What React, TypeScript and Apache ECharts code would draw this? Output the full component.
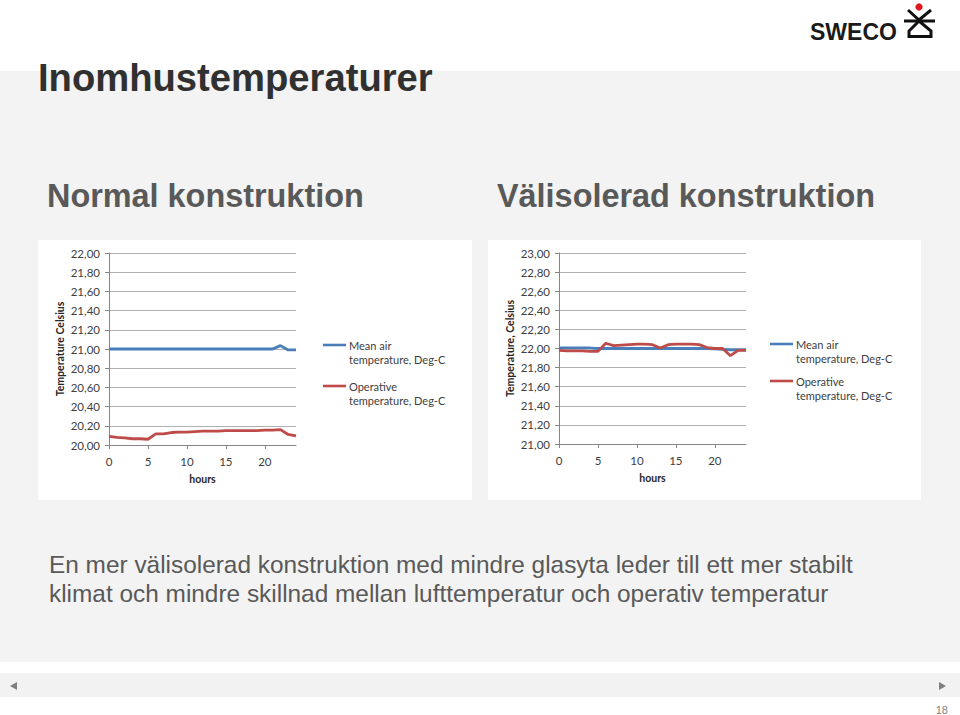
import React, { useEffect, useRef } from "react";
import * as echarts from "echarts";

// ---- Data ----
const hours = [0, 1, 2, 3, 4, 5, 6, 7, 8, 9, 10, 11, 12, 13, 14, 15, 16, 17, 18, 19, 20, 21, 22, 23, 24];

const normalMeanAir = [21.0, 21.0, 21.0, 21.0, 21.0, 21.0, 21.0, 21.0, 21.0, 21.0, 21.0, 21.0, 21.0, 21.0, 21.0, 21.0, 21.0, 21.0, 21.0, 21.0, 21.0, 21.0, 21.035, 20.99, 20.99];
const normalOperative = [20.09, 20.08, 20.075, 20.065, 20.065, 20.06, 20.115, 20.115, 20.13, 20.135, 20.135, 20.14, 20.145, 20.145, 20.145, 20.15, 20.15, 20.15, 20.15, 20.15, 20.155, 20.155, 20.16, 20.11, 20.095];

const wellMeanAir = [22.005, 22.005, 22.005, 22.005, 22.005, 22.0, 22.0, 22.0, 22.0, 22.0, 22.0, 22.0, 22.0, 22.0, 22.0, 22.0, 22.0, 22.0, 22.0, 22.0, 21.995, 21.99, 21.985, 21.985, 21.985];
const wellOperative = [21.98, 21.975, 21.975, 21.975, 21.97, 21.97, 22.055, 22.03, 22.035, 22.04, 22.045, 22.045, 22.04, 22.005, 22.04, 22.045, 22.045, 22.045, 22.04, 22.01, 22.0, 22.0, 21.925, 21.98, 21.98];

const seriesNames = ["Mean air temperature, Deg-C", "Operative temperature, Deg-C"];
const legendLines = [
  ["Mean air", "temperature, Deg-C"],
  ["Operative", "temperature, Deg-C"],
];
const yRangeNormal = [20, 22];
const yRangeWell = [21, 23];
const xRange = [0, 24];

const pageTitle = "Inomhustemperaturer";
const subTitles = ["Normal konstruktion", "Välisolerad konstruktion"];
const bodyLines = [
  "En mer välisolerad konstruktion med mindre glasyta leder till ett mer stabilt",
  "klimat och mindre skillnad mellan lufttemperatur och operativ temperatur",
];
const yAxisNames = ["Temperature Celsius", "Temperature, Celsius"];
const xAxisName = "hours";
const pageNumber = "18";

const BLUE = "#4A7EBB";
const RED = "#BE4B48";
const CHART_FONT = "Lato, 'Open Sans', sans-serif";
const SLIDE_FONT = "'Liberation Sans', Arial, sans-serif";

function pairs(vals: number[]) {
  return hours.map((h, i) => [h, vals[i]]);
}

function makeX(gridIndex: number) {
  return {
    type: "value",
    gridIndex,
    min: xRange[0],
    max: xRange[1],
    interval: 5,
    name: xAxisName,
    nameLocation: "middle",
    nameGap: 28,
    nameTextStyle: { fontFamily: CHART_FONT, fontWeight: "bold", fontSize: 10.5, color: "#262626" },
    axisLine: { show: true, lineStyle: { color: "#868686", width: 1 } },
    axisTick: { show: true, length: 4, lineStyle: { color: "#868686" } },
    axisLabel: {
      showMaxLabel: false,
      margin: 10,
      fontFamily: CHART_FONT,
      fontSize: 11.5,
      color: "#404040",
    },
    splitLine: { show: false },
  };
}

function makeY(gridIndex: number, range: number[], name: string) {
  return {
    type: "value",
    gridIndex,
    min: range[0],
    max: range[1],
    interval: 0.2,
    name,
    nameLocation: "middle",
    nameGap: 44,
    nameTextStyle: { fontFamily: CHART_FONT, fontWeight: "bold", fontSize: 10.5, color: "#262626" },
    axisLine: { show: true, lineStyle: { color: "#868686", width: 1 } },
    axisTick: { show: true, length: 4, lineStyle: { color: "#868686" } },
    axisLabel: {
      margin: 9,
      fontFamily: CHART_FONT,
      fontSize: 11.5,
      color: "#404040",
      formatter: (v: number) => v.toFixed(2).replace(".", ","),
    },
    splitLine: { show: true, lineStyle: { color: "#b0b0b0", width: 1 } },
  };
}

function lineSeries(name: string, idx: number, vals: number[], color: string) {
  return {
    type: "line",
    name,
    xAxisIndex: idx,
    yAxisIndex: idx,
    data: pairs(vals),
    showSymbol: false,
    symbol: "none",
    lineStyle: { color, width: 2.8 },
    itemStyle: { color },
    z: color === RED ? 3 : 2,
  };
}

function legendGraphic(x: number, y1: number, y2: number) {
  const out: any[] = [];
  const ys = [y1, y2];
  const colors = [BLUE, RED];
  ys.forEach((y, i) => {
    out.push({
      type: "line",
      shape: { x1: x, y1: y, x2: x + 23, y2: y },
      style: { stroke: colors[i], lineWidth: 2.6 },
    });
    out.push({
      type: "text",
      x: x + 26,
      y,
      style: {
        text: legendLines[i][0],
        fill: "#404040",
        font: `11px ${CHART_FONT}`,
        verticalAlign: "middle",
      },
    });
    out.push({
      type: "text",
      x: x + 26,
      y: y + 14.5,
      style: {
        text: legendLines[i][1],
        fill: "#404040",
        font: `11px ${CHART_FONT}`,
        verticalAlign: "middle",
      },
    });
  });
  return out;
}

export default function App() {
  const ref = useRef<HTMLDivElement>(null);

  useEffect(() => {
    if (!ref.current) return;
    const chart = echarts.init(ref.current, undefined, { renderer: "svg" });
    const option: any = {
      animation: false,
      grid: [
        { left: 109, top: 253, width: 187, height: 192 },
        { left: 559, top: 253, width: 187, height: 191 },
      ],
      xAxis: [makeX(0), makeX(1)],
      yAxis: [makeY(0, yRangeNormal, yAxisNames[0]), makeY(1, yRangeWell, yAxisNames[1])],
      series: [
        lineSeries(seriesNames[0], 0, normalMeanAir, BLUE),
        lineSeries(seriesNames[1], 0, normalOperative, RED),
        lineSeries(seriesNames[0], 1, wellMeanAir, BLUE),
        lineSeries(seriesNames[1], 1, wellOperative, RED),
      ],
      graphic: [
        {
          type: "text",
          x: 38,
          y: 77,
          style: {
            text: pageTitle,
            fill: "#303030",
            font: `bold 38.2px ${SLIDE_FONT}`,
            verticalAlign: "middle",
          },
        },
        {
          type: "text",
          x: 47,
          y: 196,
          style: { text: subTitles[0], fill: "#595959", font: `bold 32.4px ${SLIDE_FONT}`, verticalAlign: "middle" },
        },
        {
          type: "text",
          x: 497,
          y: 196,
          style: { text: subTitles[1], fill: "#595959", font: `bold 32.4px ${SLIDE_FONT}`, verticalAlign: "middle" },
        },
        {
          type: "text",
          x: 49,
          y: 564.5,
          style: { text: bodyLines[0], fill: "#595959", font: `24.4px ${SLIDE_FONT}`, verticalAlign: "middle" },
        },
        {
          type: "text",
          x: 49,
          y: 593,
          style: { text: bodyLines[1], fill: "#595959", font: `24.4px ${SLIDE_FONT}`, verticalAlign: "middle" },
        },
        ...legendGraphic(323, 345, 386),
        ...legendGraphic(770, 344, 381),
        // logo
        {
          type: "text",
          x: 810,
          y: 32,
          style: { text: "SWECO", fill: "#1a1a1a", font: `bold 23px ${SLIDE_FONT}`, verticalAlign: "middle" },
        },
        { type: "circle", shape: { cx: 919, cy: 7, r: 3.6 }, style: { fill: "#e3161b" } },
        { type: "polyline", shape: { points: [[908, 10], [919, 20], [931, 10]] }, style: { stroke: "#111", lineWidth: 3, fill: "none" } },
        { type: "line", shape: { x1: 904, y1: 21, x2: 935, y2: 21 }, style: { stroke: "#111", lineWidth: 3 } },
        {
          type: "polyline",
          shape: { points: [[919, 21], [909, 31], [909, 36.5], [931, 36.5], [931, 31], [919, 21]] },
          style: { stroke: "#111", lineWidth: 3, fill: "none" },
        },
        // nav arrows & page number
        { type: "polygon", shape: { points: [[10, 686], [17, 682], [17, 690]] }, style: { fill: "#7f7f7f" } },
        { type: "polygon", shape: { points: [[946, 686], [939, 682], [939, 690]] }, style: { fill: "#7f7f7f" } },
        {
          type: "text",
          x: 948,
          y: 710,
          style: { text: pageNumber, fill: "#7f7f7f", font: `11px ${SLIDE_FONT}`, align: "right", verticalAlign: "middle" },
        },
      ],
    };
    chart.setOption(option);
    return () => chart.dispose();
  }, []);

  const box = (l: number, t: number, w: number, h: number, bg: string) => (
    <div style={{ position: "absolute", left: l, top: t, width: w, height: h, background: bg }} />
  );

  return (
    <div style={{ position: "fixed", left: 0, top: 0, width: 960, height: 715, background: "#ffffff", overflow: "hidden" }}>
      {box(0, 71, 960, 591, "#f3f3f3")}
      {box(0, 673, 960, 24, "#f2f2f2")}
      {box(38, 240, 434, 260, "#ffffff")}
      {box(488, 240, 433, 260, "#ffffff")}
      <div ref={ref} style={{ position: "absolute", left: 0, top: 0, width: 960, height: 715 }} />
    </div>
  );
}
